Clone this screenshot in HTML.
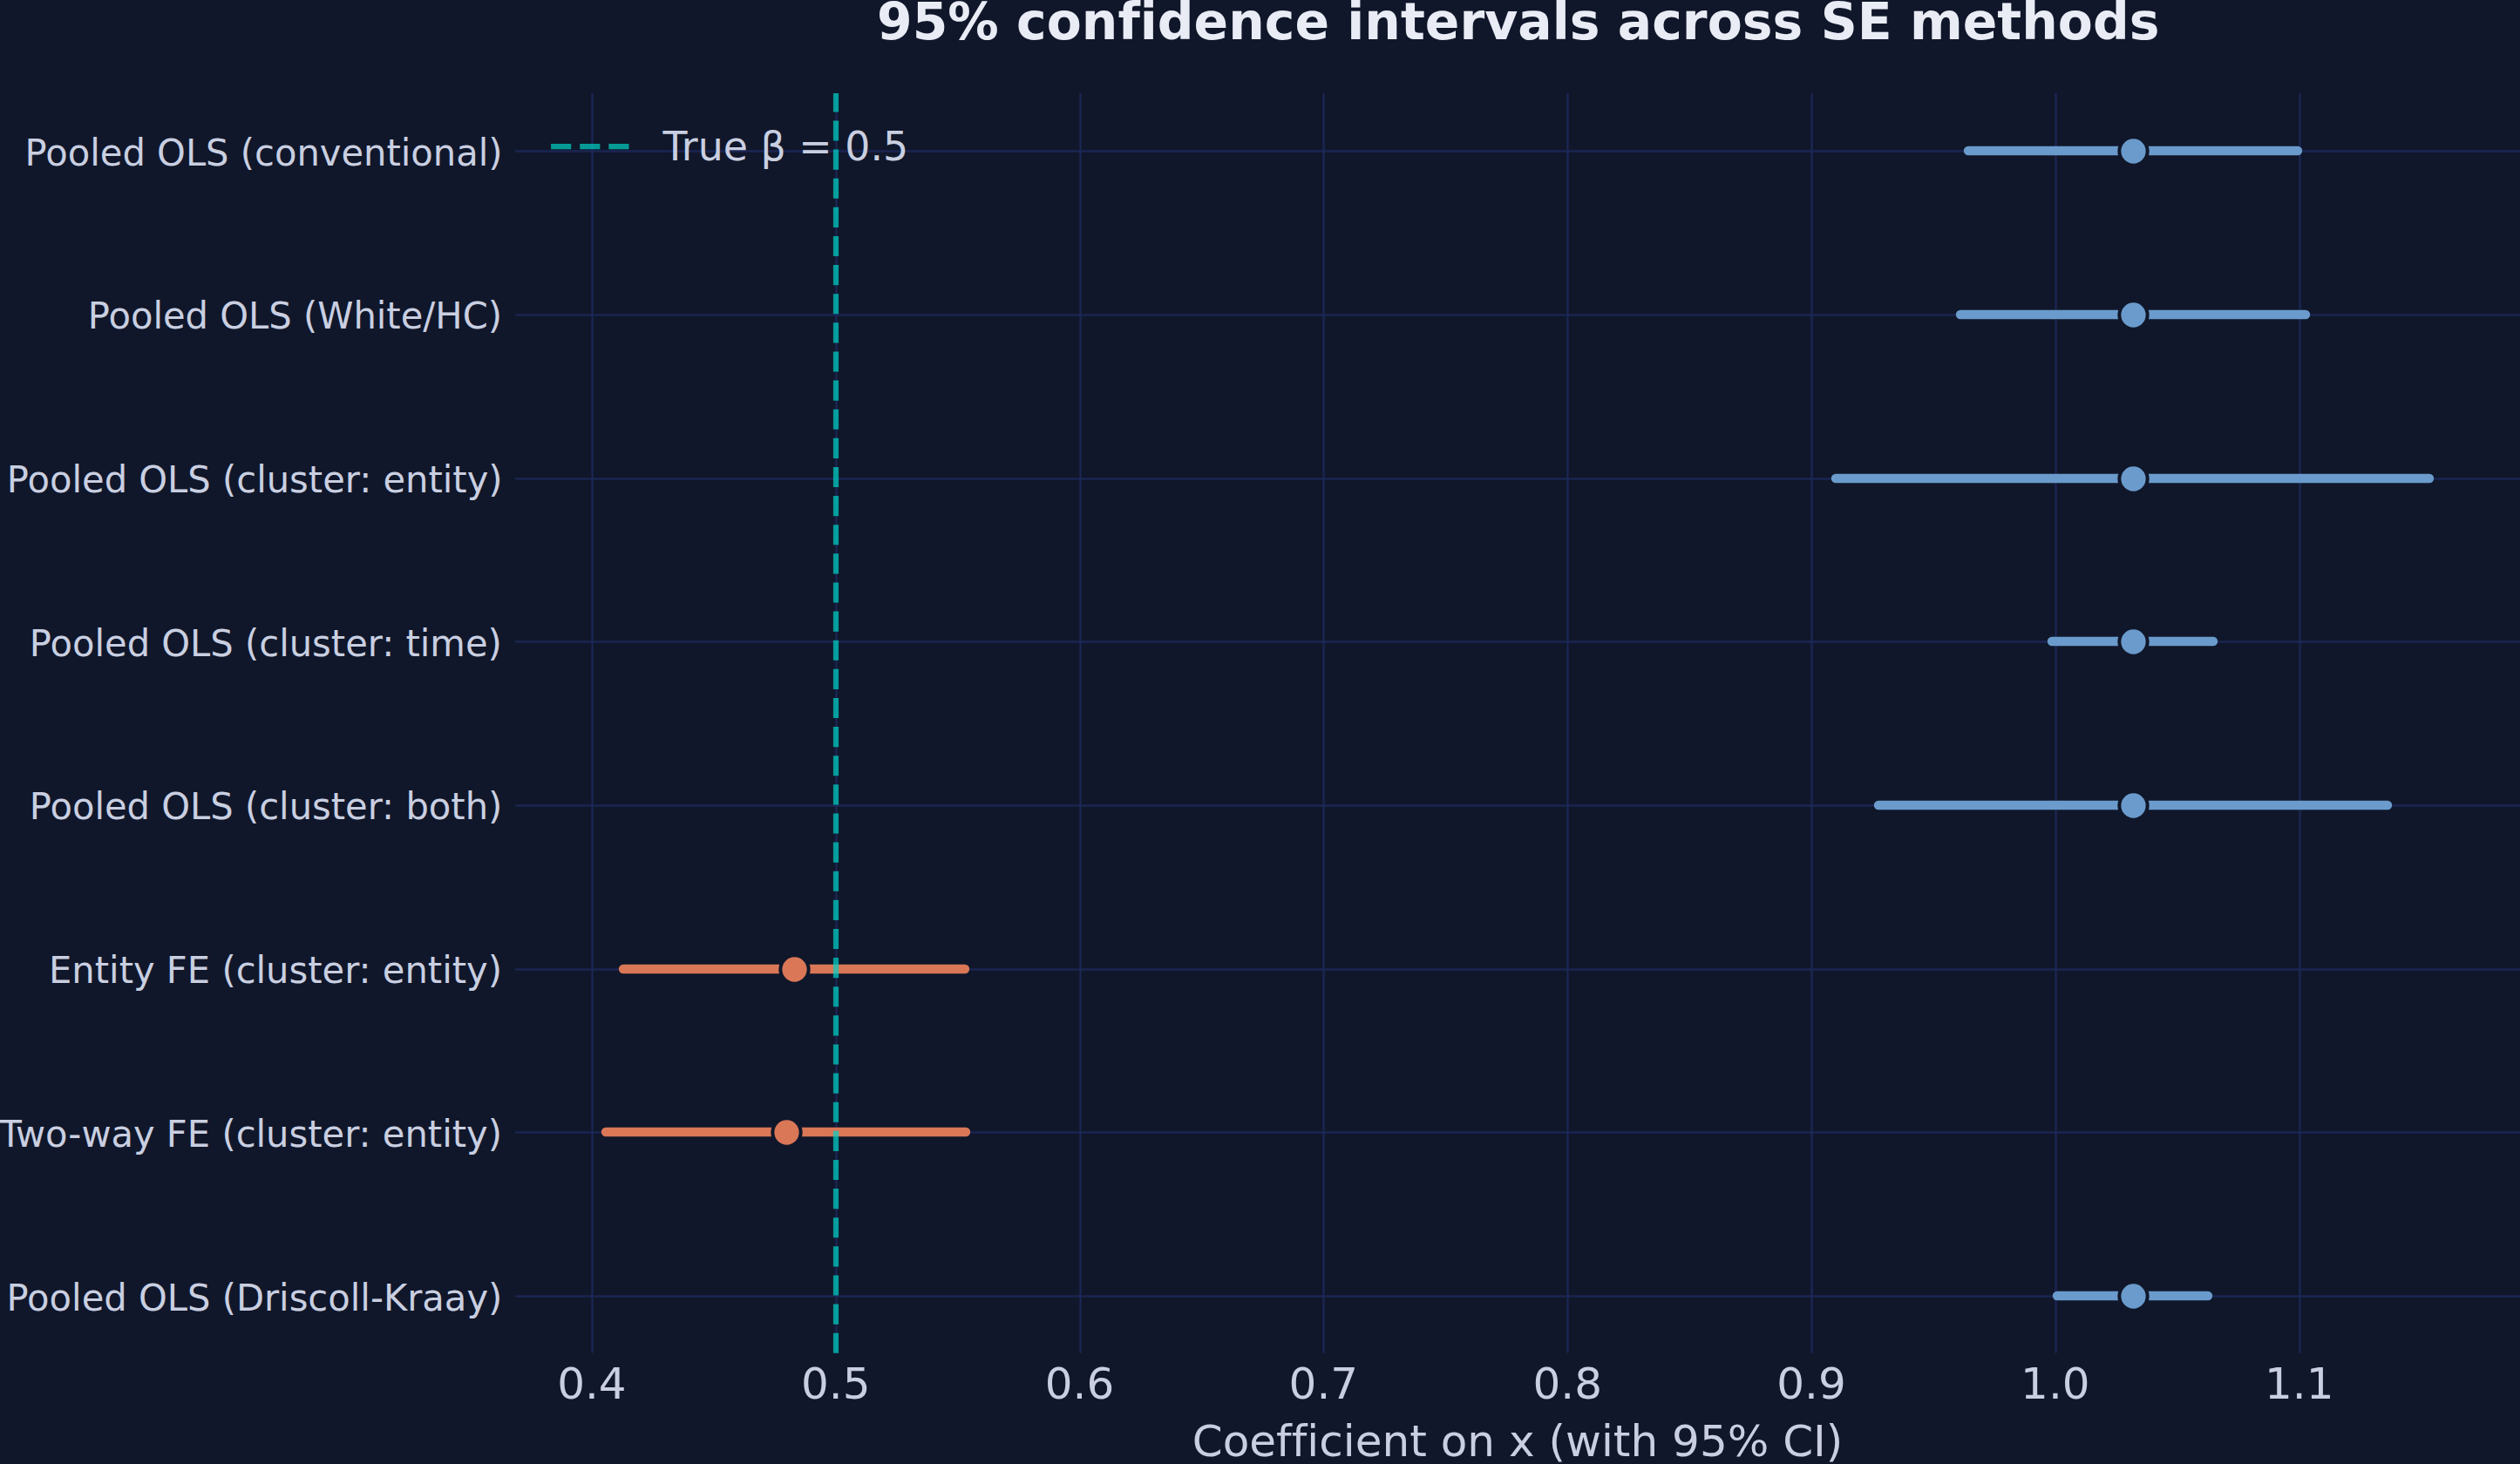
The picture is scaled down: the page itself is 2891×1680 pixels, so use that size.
<!DOCTYPE html>
<html lang="en"><head><meta charset="utf-8"><title>95% confidence intervals across SE methods</title>
<style>
html,body{margin:0;padding:0;background:#10172a;}
body{width:2891px;height:1680px;overflow:hidden;}
svg{display:block;}
text{font-family:"DejaVu Sans","Liberation Sans",sans-serif;font-variant-ligatures:none;font-feature-settings:"liga" 0,"clig" 0;}
.yt{font-size:41.67px;fill:#c9cfe1;text-anchor:end;}
.xt{font-size:50px;fill:#c9cfe1;text-anchor:middle;}
.xl{font-size:50px;fill:#c9cfe1;text-anchor:middle;letter-spacing:0.02px;}
.lg{font-size:45.83px;fill:#c9cfe1;}
.ti{font-size:58.33px;font-weight:bold;fill:#e9ecf5;text-anchor:middle;letter-spacing:0.039px;}
</style></head><body>
<svg width="2891" height="1680" viewBox="0 0 2891 1680">
<rect width="2891" height="1680" fill="#10172a"/>

<g stroke="rgba(29,41,92,0.8)" stroke-width="2.5" fill="none">
<line x1="679.50" y1="107.0" x2="679.50" y2="1552.8"/>
<line x1="959.50" y1="107.0" x2="959.50" y2="1552.8"/>
<line x1="1239.50" y1="107.0" x2="1239.50" y2="1552.8"/>
<line x1="1518.50" y1="107.0" x2="1518.50" y2="1552.8"/>
<line x1="1798.50" y1="107.0" x2="1798.50" y2="1552.8"/>
<line x1="2078.50" y1="107.0" x2="2078.50" y2="1552.8"/>
<line x1="2358.50" y1="107.0" x2="2358.50" y2="1552.8"/>
<line x1="2638.50" y1="107.0" x2="2638.50" y2="1552.8"/>
<line x1="591.2" y1="173.50" x2="2891" y2="173.50"/>
<line x1="591.2" y1="361.50" x2="2891" y2="361.50"/>
<line x1="591.2" y1="549.50" x2="2891" y2="549.50"/>
<line x1="591.2" y1="736.50" x2="2891" y2="736.50"/>
<line x1="591.2" y1="924.50" x2="2891" y2="924.50"/>
<line x1="591.2" y1="1112.50" x2="2891" y2="1112.50"/>
<line x1="591.2" y1="1299.50" x2="2891" y2="1299.50"/>
<line x1="591.2" y1="1487.50" x2="2891" y2="1487.50"/>
</g>
<line x1="2258.00" y1="173.00" x2="2636.00" y2="173.00" stroke="#6a9bcc" stroke-width="10.42" stroke-linecap="round"/>
<line x1="2249.00" y1="361.00" x2="2645.00" y2="361.00" stroke="#6a9bcc" stroke-width="10.42" stroke-linecap="round"/>
<line x1="2106.00" y1="549.00" x2="2787.00" y2="549.00" stroke="#6a9bcc" stroke-width="10.42" stroke-linecap="round"/>
<line x1="2354.00" y1="736.00" x2="2539.00" y2="736.00" stroke="#6a9bcc" stroke-width="10.42" stroke-linecap="round"/>
<line x1="2155.00" y1="924.00" x2="2739.00" y2="924.00" stroke="#6a9bcc" stroke-width="10.42" stroke-linecap="round"/>
<line x1="715.00" y1="1112.00" x2="1107.00" y2="1112.00" stroke="#d97757" stroke-width="10.42" stroke-linecap="round"/>
<line x1="695.00" y1="1299.00" x2="1108.00" y2="1299.00" stroke="#d97757" stroke-width="10.42" stroke-linecap="round"/>
<line x1="2360.00" y1="1487.00" x2="2533.00" y2="1487.00" stroke="#6a9bcc" stroke-width="10.42" stroke-linecap="round"/>
<circle cx="2447.50" cy="173.50" r="16.15" fill="#6a9bcc" stroke="#10172a" stroke-width="4"/>
<circle cx="2447.50" cy="361.50" r="16.15" fill="#6a9bcc" stroke="#10172a" stroke-width="4"/>
<circle cx="2447.50" cy="549.50" r="16.15" fill="#6a9bcc" stroke="#10172a" stroke-width="4"/>
<circle cx="2447.50" cy="736.50" r="16.15" fill="#6a9bcc" stroke="#10172a" stroke-width="4"/>
<circle cx="2447.50" cy="924.50" r="16.15" fill="#6a9bcc" stroke="#10172a" stroke-width="4"/>
<circle cx="911.50" cy="1112.50" r="16.15" fill="#d97757" stroke="#10172a" stroke-width="4"/>
<circle cx="902.50" cy="1299.50" r="16.15" fill="#d97757" stroke="#10172a" stroke-width="4"/>
<circle cx="2447.50" cy="1487.50" r="16.15" fill="#6a9bcc" stroke="#10172a" stroke-width="4"/>
<line x1="959" y1="1552.8" x2="959" y2="107.0" stroke="rgba(0,212,198,0.70)" stroke-width="6.25" stroke-dasharray="23.125 10"/>
<line x1="632.1" y1="168" x2="723.8" y2="168" stroke="rgba(0,212,198,0.70)" stroke-width="6.25" stroke-dasharray="23.125 10"/>
<text class="lg" x="760.6" y="184.3">True β = 0.5</text>
<text class="yt" transform="translate(576.6 190) scale(1 1.03)">Pooled OLS (conventional)</text>
<text class="yt" transform="translate(576.0 377) scale(1 1.03)">Pooled OLS (White/HC)</text>
<text class="yt" transform="translate(576.6 565) scale(1 1.03)">Pooled OLS (cluster: entity)</text>
<text class="yt" transform="translate(575.8 753) scale(1 1.03)">Pooled OLS (cluster: time)</text>
<text class="yt" transform="translate(576.3 940) scale(1 1.03)">Pooled OLS (cluster: both)</text>
<text class="yt" transform="translate(576.0 1128) scale(1 1.03)">Entity FE (cluster: entity)</text>
<text class="yt" transform="translate(576.0 1316) scale(1 1.03)">Two-way FE (cluster: entity)</text>
<text class="yt" transform="translate(576.3 1504) scale(1 1.03)">Pooled OLS (Driscoll-Kraay)</text>
<text class="xt" x="678.90" y="1605.2">0.4</text>
<text class="xt" x="958.73" y="1605.2">0.5</text>
<text class="xt" x="1238.56" y="1605.2">0.6</text>
<text class="xt" x="1518.39" y="1605.2">0.7</text>
<text class="xt" x="1798.22" y="1605.2">0.8</text>
<text class="xt" x="2078.05" y="1605.2">0.9</text>
<text class="xt" x="2357.88" y="1605.2">1.0</text>
<text class="xt" x="2637.71" y="1605.2">1.1</text>
<text class="xl" x="1741.1" y="1670.8">Coefficient on x (with 95% CI)</text>
<text class="ti" x="1741.75" y="45.2">95% confidence intervals across SE methods</text>
</svg></body></html>
